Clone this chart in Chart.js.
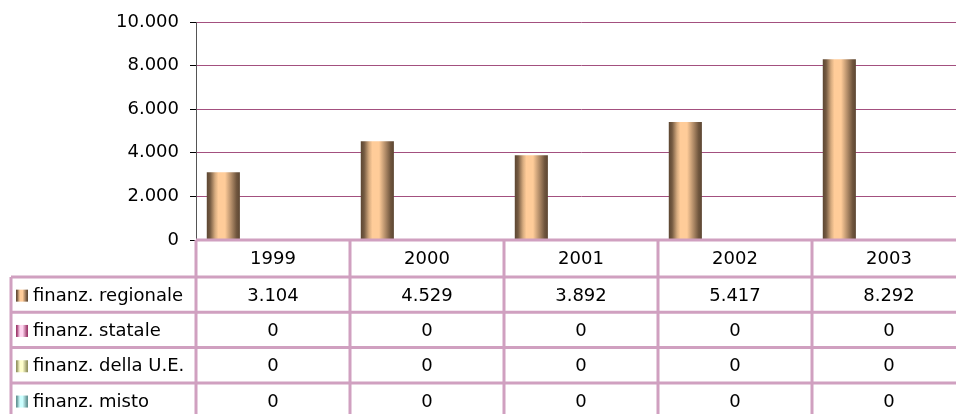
<!DOCTYPE html>
<html>
<head>
<meta charset="utf-8">
<script src="https://cdn.jsdelivr.net/npm/chart.js@4/dist/chart.umd.min.js"></script>
<style>
html, body { margin: 0; padding: 0; overflow: hidden; background: #fff; }
#box { position: relative; width: 966px; height: 414px; }
</style>
</head>
<body>
<div id="box"><canvas id="grafico"></canvas></div>
<script>
// dati
var anni = ["1999", "2000", "2001", "2002", "2003"];
var regionale = [3104, 4529, 3892, 5417, 8292];
var statale = [0, 0, 0, 0, 0];
var ue = [0, 0, 0, 0, 0];
var misto = [0, 0, 0, 0, 0];
var nomiSerie = ["finanz. regionale", "finanz. statale", "finanz. della U.E.", "finanz. misto"];
var tickMin = 0, tickMax = 10000, tickPasso = 2000;

// scuro / chiaro per ogni serie (effetto cilindro)
var colori = [
    ['#5c4632', '#ffcc99'],
    ['#993366', '#ffd6f0'],
    ['#8f8f5c', '#ffffcc'],
    ['#5f8f8f', '#ccffff']
];
var FONT = '18px "DejaVu Sans"';
var LINEA_TAB = '#d0a0c0';

function formatta(v) {
    return String(v).replace(/\B(?=(\d{3})+(?!\d))/g, '.');
}

function hex2rgb(h) {
    return [parseInt(h.substr(1, 2), 16), parseInt(h.substr(3, 2), 16), parseInt(h.substr(5, 2), 16)];
}
function mix(a, b, t) {
    var x = hex2rgb(a), y = hex2rgb(b);
    return 'rgb(' + Math.round(x[0] + (y[0] - x[0]) * t) + ',' + Math.round(x[1] + (y[1] - x[1]) * t) + ',' + Math.round(x[2] + (y[2] - x[2]) * t) + ')';
}
var fermate = [[0, 0], [0.1, 0.15], [0.25, 0.75], [0.35, 1], [0.55, 1], [0.75, 0.5], [0.9, 0.12], [1, 0]];
function cilindro(c, x0, x1, col) {
    var g = c.createLinearGradient(x0, 0, x1, 0);
    fermate.forEach(function (f) { g.addColorStop(f[0], mix(col[0], col[1], f[1])); });
    return g;
}

// sfumatura per ogni barra, calcolata sulla posizione data dalla scala
var sfumature = {
    id: 'sfumature',
    beforeDatasetsDraw: function (chart) {
        chart.data.datasets.forEach(function (ds, i) {
            chart.getDatasetMeta(i).data.forEach(function (bar) {
                var p = bar.getProps(['x', 'width']);
                bar.options.backgroundColor = cilindro(chart.ctx, p.x - p.width / 2, p.x + p.width / 2, colori[i]);
            });
        });
    }
};

// tabella dati sotto il grafico
var tabella = {
    id: 'tabella',
    afterDraw: function (chart) {
        var c = chart.ctx, a = chart.chartArea, sx = chart.scales.x;
        var n = anni.length;
        var w = (a.right - a.left) / n;
        var top = a.bottom, hHead = 37, hRow = 35.3, xSx = 11;
        var righe = [regionale, statale, ue, misto];
        var yLinee = [top, top + hHead];
        for (var r = 1; r <= righe.length; r++) yLinee.push(top + hHead + r * hRow);

        c.save();
        c.strokeStyle = LINEA_TAB;
        c.lineWidth = 3;
        c.beginPath();
        c.moveTo(a.left, top); c.lineTo(chart.width, top);
        for (var i = 1; i < yLinee.length; i++) {
            c.moveTo(xSx, yLinee[i]); c.lineTo(chart.width, yLinee[i]);
        }
        c.moveTo(xSx, yLinee[1]); c.lineTo(xSx, chart.height);
        for (var j = 0; j <= n; j++) {
            var xv = sx.getPixelForValue(0) - w / 2 + j * w;
            c.moveTo(xv, top); c.lineTo(xv, chart.height);
        }
        c.stroke();

        c.font = FONT;
        c.fillStyle = '#000';
        c.textBaseline = 'middle';
        c.textAlign = 'center';
        anni.forEach(function (an, k) {
            c.fillText(an, sx.getPixelForValue(k), top + hHead / 2 + 1);
        });
        righe.forEach(function (vals, r) {
            var y0 = yLinee[r + 1], yc = y0 + hRow / 2 + 1.5;
            c.textAlign = 'center';
            vals.forEach(function (v, k) {
                c.fillText(formatta(v), sx.getPixelForValue(k), yc);
            });
            c.fillStyle = cilindro(c, 16, 28, colori[r]);
            c.fillRect(16, yc - 6.5, 12, 12);
            c.fillStyle = '#000';
            c.textAlign = 'left';
            c.fillText(nomiSerie[r], 33, yc);
        });
        c.restore();
    }
};

var serie = [regionale, statale, ue, misto];
var grafico = new Chart(document.getElementById('grafico'), {
    type: 'bar',
    data: {
        labels: anni,
        datasets: serie.map(function (d, i) {
            return {
                label: nomiSerie[i],
                data: d,
                borderWidth: 0,
                // scriptable: le opzioni restano per barra, la sfumatura viene messa dal plugin
                backgroundColor: function () { return colori[i][1]; },
                categoryPercentage: 0.86,
                barPercentage: 1
            };
        })
    },
    options: {
        responsive: true,
        maintainAspectRatio: false,
        animation: false,
        layout: { padding: { top: 22, bottom: 174, left: 0, right: 0 } },
        plugins: { legend: { display: false }, tooltip: { enabled: false } },
        scales: {
            x: { display: false },
            y: {
                min: tickMin,
                max: tickMax,
                ticks: {
                    stepSize: tickPasso,
                    padding: 11,
                    color: '#000',
                    font: { family: 'DejaVu Sans', size: 18 },
                    callback: function (v) { return formatta(v); }
                },
                grid: { color: '#a3507f', lineWidth: 1, tickColor: '#000', tickLength: 6 },
                border: { display: true, color: '#555', width: 1 },
                afterFit: function (s) { s.width = 196; }
            }
        }
    },
    plugins: [sfumature, tabella]
});
</script>
</body>
</html>
